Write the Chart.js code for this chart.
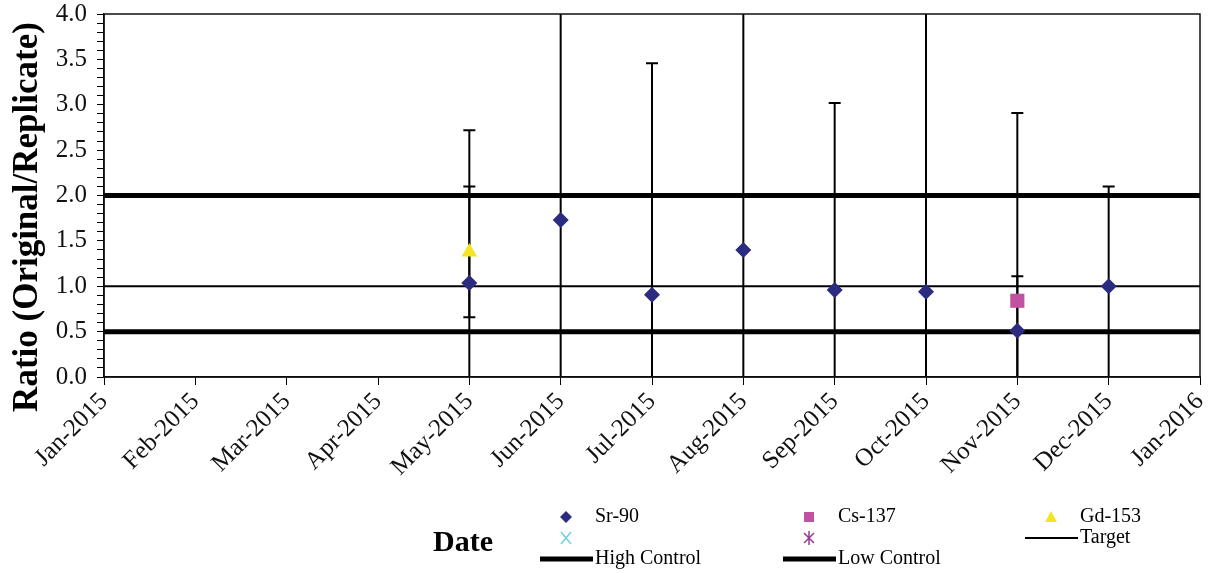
<!DOCTYPE html>
<html>
<head>
<meta charset="utf-8">
<title>Ratio (Original/Replicate)</title>
<script src="https://cdn.jsdelivr.net/npm/chart.js@4.4.1/dist/chart.umd.min.js"></script>
<style>
  html, body { margin: 0; padding: 0; background: #ffffff; }
  #wrap { width: 1211px; height: 573px; position: relative; }
</style>
</head>
<body>
<div id="wrap"><canvas id="chart" width="1211" height="573"></canvas></div>
<script>
// Month tick labels (0 = Jan-2015 ... 12 = Jan-2016)
const monthLabels = ['Jan-2015', 'Feb-2015', 'Mar-2015', 'Apr-2015', 'May-2015', 'Jun-2015',
  'Jul-2015', 'Aug-2015', 'Sep-2015', 'Oct-2015', 'Nov-2015', 'Dec-2015', 'Jan-2016'];

// Sr-90 duplicate ratios, by month index, with +/- uncertainty
const srMonths = [4, 5, 6, 7, 8, 9, 10, 11];
const srRatios = [1.035, 1.73, 0.906, 1.40, 0.96, 0.94, 0.51, 1.00];
const srErrors = [1.685, 2.60, 2.55, 2.90, 2.06, 3.20, 0.60, 1.10];

// Cs-137
const csMonths = [10];
const csRatios = [0.84];
const csErrors = [2.07];

// Gd-153
const gdMonths = [4];
const gdRatios = [1.378];
const gdErrors = [0.72];

// Control limits
const targetRatio = 1.0;
const highControl = 2.0;
const lowControl = 0.5;

// Y axis range and label step
const yMin = 0, yMax = 4, yLabelStep = 0.5, yMinorStep = 0.1;

const SERIF = '"Liberation Serif", "Times New Roman", serif';

function pts(months, ratios) {
  return months.map((m, i) => ({ x: m, y: ratios[i] }));
}
function flat(v) {
  return [{ x: 0, y: v }, { x: monthLabels.length - 1, y: v }];
}

// Error bars (vertical whiskers with a cap at each end), clipped to the plot
const errorBars = {
  id: 'errorBars',
  beforeDatasetsDraw(chart) {
    const { ctx, chartArea, scales } = chart;
    ctx.save();
    ctx.beginPath();
    ctx.rect(chartArea.left, chartArea.top, chartArea.right - chartArea.left, chartArea.bottom - chartArea.top);
    ctx.clip();
    ctx.strokeStyle = '#000000';
    ctx.lineWidth = 2;
    chart.data.datasets.forEach((ds, di) => {
      if (!ds.errors) return;
      const meta = chart.getDatasetMeta(di);
      ds.data.forEach((p, j) => {
        const x = meta.data[j].x;
        const yTop = scales.y.getPixelForValue(p.y + ds.errors[j]);
        const yBot = scales.y.getPixelForValue(p.y - ds.errors[j]);
        ctx.beginPath();
        ctx.moveTo(x, yTop); ctx.lineTo(x, yBot);
        ctx.moveTo(x - 6, yTop); ctx.lineTo(x + 6, yTop);
        ctx.moveTo(x - 6, yBot); ctx.lineTo(x + 6, yBot);
        ctx.stroke();
      });
    });
    ctx.restore();
  }
};

// Plot frame plus the axis titles
const frame = {
  id: 'frame',
  afterDraw(chart) {
    const { ctx, chartArea } = chart;
    ctx.save();
    ctx.strokeStyle = '#111111';
    ctx.lineWidth = 1.5;
    ctx.strokeRect(chartArea.left, chartArea.top, chartArea.right - chartArea.left, chartArea.bottom - chartArea.top);

    ctx.fillStyle = '#000000';
    ctx.textAlign = 'center';
    ctx.textBaseline = 'middle';
    ctx.font = 'bold 30px ' + SERIF;
    ctx.fillText('Date', 463, 543);

    ctx.translate(28, 217);
    ctx.rotate(-Math.PI / 2);
    ctx.font = 'bold 35px ' + SERIF;
    ctx.fillText('Ratio (Original/Replicate)', 0, 0);
    ctx.restore();
  }
};

// Legend laid out as a three-column grid below the plot
const legendSlots = [
  { col: 0, row: 0 }, { col: 1, row: 0 }, { col: 2, row: 0 },
  { col: 0, row: 1 }, { col: 1, row: 1 }, { col: 2, row: 1 },
  { col: 0, row: 2 }, { col: 1, row: 2 }
];
const legendCols = [566, 809, 1051];
const legendTextX = [595, 838, 1080];
const legendRows = [517, 538, 559];

function drawMarker(ctx, style, x, y, color) {
  ctx.fillStyle = color;
  ctx.strokeStyle = color;
  ctx.beginPath();
  if (style === 'rectRot') {
    const r = 6;
    ctx.moveTo(x, y - r); ctx.lineTo(x + r, y); ctx.lineTo(x, y + r); ctx.lineTo(x - r, y);
    ctx.closePath(); ctx.fill();
  } else if (style === 'rect') {
    ctx.rect(x - 5, y - 5, 10, 10); ctx.fill();
  } else if (style === 'triangle') {
    ctx.moveTo(x, y - 6); ctx.lineTo(x + 6, y + 5); ctx.lineTo(x - 6, y + 5);
    ctx.closePath(); ctx.fill();
  } else if (style === 'crossRot') {
    ctx.lineWidth = 1.5;
    ctx.moveTo(x - 5, y - 6); ctx.lineTo(x + 5, y + 6);
    ctx.moveTo(x + 5, y - 6); ctx.lineTo(x - 5, y + 6);
    ctx.stroke();
  } else if (style === 'star') {
    ctx.lineWidth = 1.5;
    ctx.moveTo(x, y - 7); ctx.lineTo(x, y + 7);
    ctx.moveTo(x - 5, y - 5); ctx.lineTo(x + 5, y + 5);
    ctx.moveTo(x + 5, y - 5); ctx.lineTo(x - 5, y + 5);
    ctx.stroke();
  }
}

const gridLegend = {
  id: 'gridLegend',
  afterDraw(chart) {
    const { ctx } = chart;
    ctx.save();
    ctx.font = '20px ' + SERIF;
    ctx.textBaseline = 'middle';
    ctx.textAlign = 'left';
    chart.data.datasets.forEach((ds, i) => {
      const slot = legendSlots[i];
      const cx = legendCols[slot.col];
      const y = legendRows[slot.row];
      if (ds.type === 'line') {
        ctx.strokeStyle = ds.borderColor;
        ctx.lineWidth = ds.borderWidth;
        ctx.beginPath();
        ctx.moveTo(cx - 26, y); ctx.lineTo(legendTextX[slot.col] - 2, y);
        ctx.stroke();
      } else {
        drawMarker(ctx, ds.pointStyle, cx, y, ds.backgroundColor);
      }
      if (ds.label) {
        ctx.fillStyle = '#000000';
        ctx.fillText(ds.label, legendTextX[slot.col], y);
      }
    });
    ctx.restore();
  }
};

new Chart(document.getElementById('chart'), {
  type: 'scatter',
  data: {
    datasets: [
      { label: 'Sr-90', data: pts(srMonths, srRatios), errors: srErrors,
        pointStyle: 'rectRot', pointRadius: 8, backgroundColor: '#2B2B7F', borderWidth: 0, order: 0 },
      { label: 'Cs-137', data: pts(csMonths, csRatios), errors: csErrors,
        pointStyle: 'rect', pointRadius: 10, backgroundColor: '#C052A2', borderWidth: 0, order: 0 },
      { label: 'Gd-153', data: pts(gdMonths, gdRatios), errors: gdErrors,
        pointStyle: 'triangle', pointRadius: 9, backgroundColor: '#F4E524', borderWidth: 0, order: 0 },
      { label: '', data: [], pointStyle: 'crossRot', backgroundColor: '#70CFE0', borderColor: '#70CFE0', order: 0 },
      { label: '', data: [], pointStyle: 'star', backgroundColor: '#9A3A9A', borderColor: '#9A3A9A', order: 0 },
      { type: 'line', label: 'Target', data: flat(targetRatio), borderColor: '#000000', borderWidth: 2,
        pointRadius: 0, fill: false, order: 2 },
      { type: 'line', label: 'High Control', data: flat(highControl), borderColor: '#000000', borderWidth: 5,
        pointRadius: 0, fill: false, order: 2 },
      { type: 'line', label: 'Low Control', data: flat(lowControl), borderColor: '#000000', borderWidth: 5,
        pointRadius: 0, fill: false, order: 2 }
    ]
  },
  options: {
    responsive: false,
    animation: false,
    devicePixelRatio: 1,
    layout: { padding: { top: 14, right: 11, left: 0, bottom: 0 } },
    plugins: {
      legend: { display: false },
      tooltip: { enabled: false }
    },
    scales: {
      x: {
        type: 'linear',
        min: 0,
        max: monthLabels.length - 1,
        afterFit(scale) {
          scale.height = 196;
          scale.paddingLeft = 0; scale.paddingRight = 0;
        },
        grid: { drawOnChartArea: false, drawTicks: true, tickLength: 8, color: '#000000' },
        border: { display: true, color: '#000000', width: 1.5 },
        ticks: {
          stepSize: 1,
          autoSkip: false,
          minRotation: 45,
          maxRotation: 45,
          padding: 2,
          color: '#111111',
          font: { family: SERIF, size: 25 },
          callback: (v) => monthLabels[v] ?? ''
        }
      },
      y: {
        min: yMin,
        max: yMax,
        afterFit(scale) {
          scale.width = 104;
          scale.paddingTop = 0; scale.paddingBottom = 0;
        },
        grid: { drawOnChartArea: false, drawTicks: true, tickLength: 7, color: '#000000' },
        border: { display: true, color: '#000000', width: 1.5 },
        ticks: {
          stepSize: yMinorStep,
          maxTicksLimit: 100,
          autoSkip: false,
          padding: 10,
          color: '#111111',
          font: { family: SERIF, size: 25 },
          callback: (v) => {
            const k = v / yLabelStep;
            return Math.abs(k - Math.round(k)) < 1e-6 ? v.toFixed(1) : '';
          }
        }
      }
    }
  },
  plugins: [errorBars, frame, gridLegend]
});
</script>
</body>
</html>
